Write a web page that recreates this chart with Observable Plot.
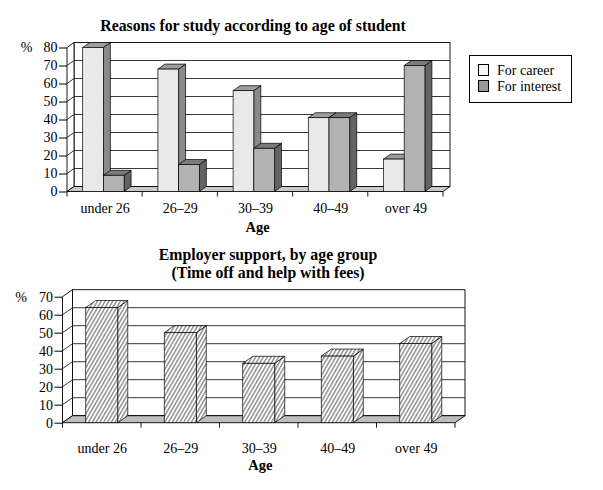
<!DOCTYPE html>
<html>
<head>
<meta charset="utf-8">
<script src="https://cdn.jsdelivr.net/npm/d3@7"></script>
<script src="https://cdn.jsdelivr.net/npm/@observablehq/plot@0.6"></script>
<style>
  body { margin: 0; background: #fff; }
  #wrap { position: relative; width: 603px; height: 490px; overflow: hidden;
          font-family: "Liberation Serif", "Times New Roman", serif; color: #000; background: #fff; }
  .title { position: absolute; white-space: nowrap; font-weight: bold; font-size: 15.8px;
           line-height: 18px; text-align: center; transform: translateX(-50%); }
  #legend { position: absolute; left: 469px; top: 55px; width: 103px; height: 48px;
            border: 1px solid #000; box-sizing: border-box; font-size: 14px; }
  .sw { position: absolute; left: 8px; width: 11px; height: 12px; border: 1px solid #000; box-sizing: border-box; }
  .lt { position: absolute; left: 27px; line-height: 14px; white-space: nowrap; }
  svg { position: absolute; left: 0; }
</style>
</head>
<body>
<div id="wrap">
  <div class="title" style="left:253px; top:17px;">Reasons for study according to age of student</div>
  <div id="legend"></div>
  <div class="title" style="left:268px; top:246px;">Employer support, by age group<br>(Time off and help with fees)</div>
</div>
<script>
// ---------- data ----------
const ages = ["under 26", "26–29", "30–39", "40–49", "over 49"];
const series = ["For career", "For interest"];
const career = [80, 68, 56, 41, 18];
const interest = [9, 15, 24, 41, 70];
const support = [64, 50, 33, 37, 44];
const yMax1 = 80, yMax2 = 70;

// ---------- styles ----------
const careerColors = {front: "#e9e9e9", top: "#9c9c9c", side: "#8a8a8a"};
const interestColors = {front: "#b2b2b2", top: "#7a7a7a", side: "#636363"};
const FONT = "'Liberation Serif', 'Times New Roman', serif";
const W = 603;

// legend
const legend = document.getElementById("legend");
[[series[0], "#f6f6f6", 8], [series[1], "#9a9a9a", 24]].forEach(([label, fill, top]) => {
  const sw = document.createElement("div");
  sw.className = "sw"; sw.style.top = top + "px"; sw.style.background = fill;
  legend.appendChild(sw);
  const t = document.createElement("div");
  t.className = "lt"; t.style.top = (top - 0.5) + "px"; t.textContent = label;
  legend.appendChild(t);
});

// 3D scenery drawn through the plot's scales
function scene({top, step, dx, dy, floorFill, bars, defs}) {
  return (index, scales) => {
    const x = scales.x, y = scales.y;
    const bw = x(ages[1]) - x(ages[0]);
    const x0 = x(ages[0]), x1 = x(ages[ages.length - 1]) + bw;
    const yb = y(0), yt = y(top);
    const g = d3.create("svg:g").attr("stroke-linejoin", "miter");
    if (defs) defs(g);
    const poly = pts => "M" + pts.map(p => p.join(",")).join("L") + "Z";
    // back wall
    g.append("rect").attr("x", x0 + dx).attr("y", yt + dy).attr("width", x1 - x0).attr("height", yb - yt)
      .attr("fill", "#fff").attr("stroke", "#000").attr("stroke-width", 0.9);
    // left wall
    g.append("path").attr("d", poly([[x0, yb], [x0 + dx, yb + dy], [x0 + dx, yt + dy], [x0, yt]]))
      .attr("fill", "#fff").attr("stroke", "#000").attr("stroke-width", 0.9);
    // gridlines
    for (let v = step; v < top; v += step) {
      const yv = y(v);
      g.append("path").attr("d", `M${x0},${yv}L${x0 + dx},${yv + dy}L${x1 + dx},${yv + dy}`)
        .attr("fill", "none").attr("stroke", "#222").attr("stroke-width", 0.9);
    }
    // floor
    g.append("path").attr("d", poly([[x0, yb], [x1, yb], [x1 + dx, yb + dy], [x0 + dx, yb + dy]]))
      .attr("fill", floorFill).attr("stroke", "#000").attr("stroke-width", 0.9);
    // category boundary ticks
    const bounds = ages.map(a => x(a)).concat([x1]);
    for (const bx of bounds) {
      g.append("line").attr("x1", bx).attr("x2", bx).attr("y1", yb).attr("y2", yb + 5)
        .attr("stroke", "#000").attr("stroke-width", 0.9);
    }
    // bar sides and tops
    for (const b of bars) {
      const fx1 = x(b.age) + b.off, fx2 = fx1 + b.w, yv = y(b.value);
      g.append("path").attr("d", poly([[fx2, yb], [fx2 + dx, yb + dy], [fx2 + dx, yv + dy], [fx2, yv]]))
        .attr("fill", b.side).attr("stroke", "#000").attr("stroke-width", 0.7);
      g.append("path").attr("d", poly([[fx1, yv], [fx2, yv], [fx2 + dx, yv + dy], [fx1 + dx, yv + dy]]))
        .attr("fill", b.top).attr("stroke", "#000").attr("stroke-width", 0.7);
    }
    return g.node();
  };
}

// ---------- chart 1 ----------
const M1 = {top: 11.5, right: 160, bottom: 48.5, left: 67};
const H1 = 204;
const bw1 = (W - M1.left - M1.right) / ages.length;
const off1 = 15.7, w1 = 20.7;
const careerRows = ages.map((age, i) => ({age, value: career[i]}));
const interestRows = ages.map((age, i) => ({age, value: interest[i]}));
const bars1 = [];
ages.forEach((age, i) => {
  bars1.push({age, value: career[i], off: off1, w: w1, side: careerColors.side, top: careerColors.top});
  bars1.push({age, value: interest[i], off: off1 + w1, w: w1, side: interestColors.side, top: interestColors.top});
});

const chart1 = Plot.plot({
  width: W, height: H1,
  marginTop: M1.top, marginRight: M1.right, marginBottom: M1.bottom, marginLeft: M1.left,
  style: {fontFamily: FONT, fontSize: "14px", background: "transparent", overflow: "visible", color: "#000"},
  x: {domain: ages, padding: 0, round: false, tickSize: 0, tickPadding: 11, label: null},
  y: {domain: [0, yMax1], ticks: 8, tickSize: 8, tickPadding: 2, label: null},
  marks: [
    scene({top: yMax1, step: 10, dx: 7, dy: -5, floorFill: "#c9c9c9", bars: bars1}),
    Plot.barY(careerRows, {x: "age", y: "value", fill: careerColors.front, stroke: "#000", strokeWidth: 0.7,
      insetLeft: off1, insetRight: bw1 - off1 - w1}),
    Plot.barY(interestRows, {x: "age", y: "value", fill: interestColors.front, stroke: "#000", strokeWidth: 0.7,
      insetLeft: off1 + w1, insetRight: bw1 - off1 - 2 * w1}),
    Plot.text(["%"], {text: d => d, frameAnchor: "top-left", textAnchor: "middle", lineAnchor: "middle",
      dx: -41, dy: 0, fontSize: 14}),
    Plot.text(["Age"], {text: d => d, frameAnchor: "bottom", textAnchor: "middle", lineAnchor: "middle",
      dx: 2, dy: 34.9, fontSize: 14.5, fontWeight: "bold"})
  ]
});
chart1.style.top = "36px";
document.getElementById("wrap").appendChild(chart1);

// ---------- chart 2 ----------
const M2 = {top: 14.7, right: 148, bottom: 67.3, left: 62.5};
const H2 = 208;
const bw2 = (W - M2.left - M2.right) / ages.length;
const w2 = 32, off2 = (bw2 - w2) / 2;
const supportRows = ages.map((age, i) => ({age, value: support[i]}));
const bars2 = ages.map((age, i) => ({age, value: support[i], off: off2, w: w2, side: "url(#hatchB)", top: "url(#hatchB)"}));

function hatchDefs(g) {
  const p = g.append("defs").append("pattern").attr("id", "hatchB")
    .attr("patternUnits", "userSpaceOnUse").attr("width", 3.3).attr("height", 6)
    .attr("patternTransform", "rotate(30)");
  p.append("rect").attr("width", 3.3).attr("height", 6).attr("fill", "#fff");
  p.append("path").attr("d", "M1.6,-1V7").attr("stroke", "#000").attr("stroke-width", 0.7);
}

const chart2 = Plot.plot({
  width: W, height: H2,
  marginTop: M2.top, marginRight: M2.right, marginBottom: M2.bottom, marginLeft: M2.left,
  style: {fontFamily: FONT, fontSize: "14px", background: "transparent", overflow: "visible", color: "#000"},
  x: {domain: ages, padding: 0, round: false, tickSize: 0, tickPadding: 20, label: null},
  y: {domain: [0, yMax2], ticks: 7, tickSize: 8, tickPadding: 2, label: null},
  marks: [
    scene({top: yMax2, step: 10, dx: 10, dy: -7, floorFill: "#bdbdbd", bars: bars2, defs: hatchDefs}),
    Plot.barY(supportRows, {x: "age", y: "value", fill: "url(#hatchB)", stroke: "#000", strokeWidth: 0.7,
      insetLeft: off2, insetRight: off2}),
    Plot.text(["%"], {text: d => d, frameAnchor: "top-left", textAnchor: "middle", lineAnchor: "middle",
      dx: -42, dy: 0, fontSize: 14}),
    Plot.text(["Age"], {text: d => d, frameAnchor: "bottom", textAnchor: "middle", lineAnchor: "middle",
      dx: 1, dy: 41.7, fontSize: 14.5, fontWeight: "bold"})
  ]
});
chart2.style.top = "282px";
document.getElementById("wrap").appendChild(chart2);
</script>
</body>
</html>
